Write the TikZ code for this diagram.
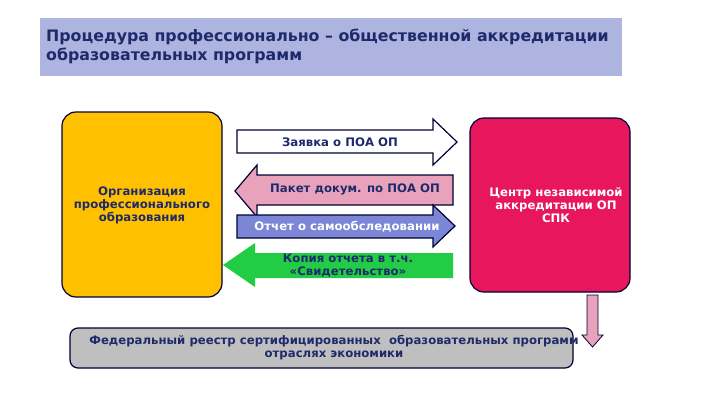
\documentclass[tikz,border=0pt]{standalone}
\usepackage{fontspec}
\setmainfont{DejaVu Sans}
\begin{document}
\begin{tikzpicture}[x=1pt,y=-1pt,
  edge/.style={draw=black!80!blue,line width=1.2pt},
  txt/.style={font=\bfseries\fontsize{11.7}{13}\selectfont,text=navy,align=center},
  box/.style={edge,rounded corners=14pt}]
\definecolor{navy}{HTML}{1F2A6B}
\definecolor{band}{HTML}{AEB4E0}
\definecolor{yel}{HTML}{FFC000}
\definecolor{crim}{HTML}{E8175D}
\definecolor{lpink}{HTML}{E8A2BC}
\definecolor{blu}{HTML}{7B86D6}
\definecolor{grn}{HTML}{22CC44}
\useasboundingbox (0,0) rectangle (720,405);
\fill[white] (0,0) rectangle (720,405);
\fill[band] (40,18) rectangle (622,76);
\node[anchor=west,align=left,text=navy,font=\bfseries\fontsize{15.8}{19}\selectfont,inner sep=0pt] (title) at (46,46) {Процедура профессионально – общественной аккредитации\\образовательных программ};
\draw[box,fill=yel] (62,112) rectangle (222,297);
\node[txt] (org) at (142,205) {Организация\\профессионального\\образования};
\draw[box,fill=crim] (470,118) rectangle (630,292);
\node[txt,text=white] (ctr) at (556,205) {Центр независимой\\аккредитации ОП\\СПК};
% arrows
\draw[edge,fill=white] (237,130)--(433,130)--(433,119)--(457,142)--(433,165)--(433,153)--(237,153)--cycle;
\node[txt] (a1) at (340,142) {Заявка о ПОА ОП};
\draw[edge,fill=lpink] (453,175)--(257,175)--(257,165)--(235,191)--(257,217)--(257,205)--(453,205)--cycle;
\node[txt] (a2) at (355,189) {Пакет докум. по ПОА ОП};
\draw[edge,fill=blu] (237,215)--(433,215)--(433,205)--(455,226)--(433,247)--(433,238)--(237,238)--cycle;
\node[txt,text=white] (a3) at (347,227) {Отчет о самообследовании};
\fill[grn] (453,253)--(255,253)--(255,243)--(223,265)--(255,287)--(255,278)--(453,278)--cycle;
\node[txt,font=\bfseries\fontsize{11.7}{13}\selectfont] (a4) at (348,266) {Копия отчета в т.ч.\\«Свидетельство»};
\draw[box,fill=black!25,rounded corners=8pt] (70,328) rectangle (573,368);
\node[txt] (reg) at (334,348) {Федеральный реестр сертифицированных\ \ образовательных программ\\отраслях экономики};
\draw[edge,line width=0.8pt,fill=lpink] (587,295)--(598,295)--(598,335)--(603,335)--(592.5,347)--(582,335)--(587,335)--cycle;
\end{tikzpicture}
\end{document}
